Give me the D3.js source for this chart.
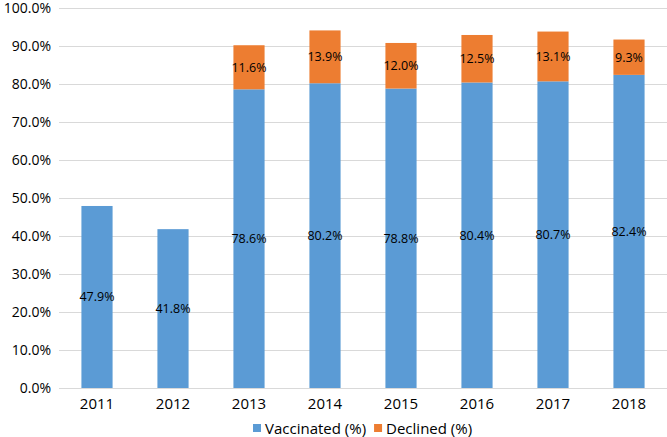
<!DOCTYPE html>
<html><head><meta charset="utf-8">
<script src="https://cdn.jsdelivr.net/npm/d3@7"></script>
<style>body{margin:0;background:#fff}svg{display:block;font-family:"Open Sans","Noto Sans",sans-serif}</style>
</head><body><svg id="c" width="667" height="437"></svg>
<script>
const years = ["2011","2012","2013","2014","2015","2016","2017","2018"];
const vaccinated = [47.9,41.8,78.6,80.2,78.8,80.4,80.7,82.4];
const declined = [null,null,11.6,13.9,12.0,12.5,13.1,9.3];
const yTicks = [0,10,20,30,40,50,60,70,80,90,100];
const seriesNames = ["Vaccinated (%)","Declined (%)"];
const colors = ["#5B9BD5","#ED7D31"];

const svg = d3.select("#c");
const m = {l:59, r:0, t:8, b:49};
const W = 667, H = 437;
const x = d3.scaleBand().domain(years).range([m.l, W-m.r]).paddingInner(0.59).paddingOuter(0.295);
const y = d3.scaleLinear().domain([0,100]).range([H-m.b, m.t]);

const ya = svg.append("g").attr("transform",`translate(${m.l},0)`)
  .call(d3.axisLeft(y).tickValues(yTicks).tickSize(-(W-m.l-m.r)).tickPadding(8).tickFormat(d=>d.toFixed(1)+"%"));
ya.select(".domain").remove();
ya.selectAll("line").attr("stroke","#d9d9d9").attr("stroke-width",1);
ya.selectAll("text").attr("font-size",14).attr("fill","#000").attr("font-family","Open Sans, sans-serif");

const xa = svg.append("g").attr("transform",`translate(0,${H-m.b})`)
  .call(d3.axisBottom(x).tickSize(0).tickPadding(10));
xa.select(".domain").attr("stroke","#d9d9d9");
xa.selectAll("text").attr("font-size",15).attr("fill","#000").attr("font-family","Open Sans, sans-serif");

const g = svg.append("g");
years.forEach((yr,i)=>{
  const v = vaccinated[i], d = declined[i];
  g.append("rect").attr("x",x(yr)).attr("width",x.bandwidth())
    .attr("y",y(v)).attr("height",y(0)-y(v)).attr("fill",colors[0]);
  g.append("text").attr("x",x(yr)+x.bandwidth()/2).attr("y",y(v/2)).attr("dy","0.35em")
    .attr("text-anchor","middle").attr("font-size",12.5).attr("fill","#000").text(v.toFixed(1)+"%");
  if(d!=null){
    g.append("rect").attr("x",x(yr)).attr("width",x.bandwidth())
      .attr("y",y(v+d)).attr("height",y(v)-y(v+d)).attr("fill",colors[1]);
    g.append("text").attr("x",x(yr)+x.bandwidth()/2).attr("y",y(v+d/2)).attr("dy","0.35em")
      .attr("text-anchor","middle").attr("font-size",12.5).attr("fill","#000").text(d.toFixed(1)+"%");
  }
});

const lg = svg.append("g").attr("transform","translate(253,429)");
let lx = 0;
seriesNames.forEach((n,i)=>{
  lg.append("rect").attr("x",lx).attr("y",-5).attr("width",8).attr("height",8).attr("fill",colors[i]);
  const t = lg.append("text").attr("x",lx+12).attr("y",0).attr("dy","0.35em").attr("font-size",15).attr("fill","#000").text(n);
  lx += 12 + t.node().getComputedTextLength() + 8;
});
</script></body></html>
